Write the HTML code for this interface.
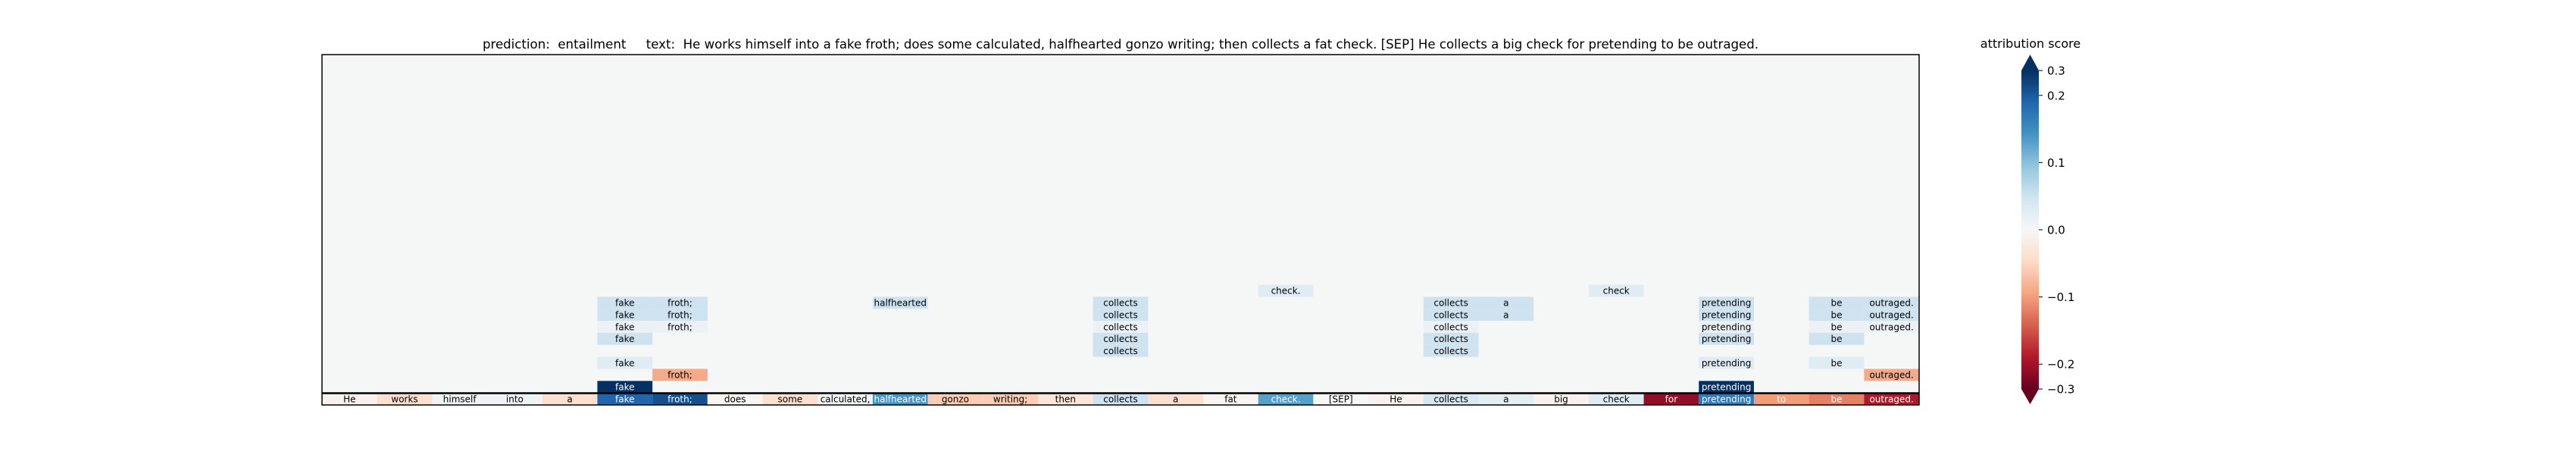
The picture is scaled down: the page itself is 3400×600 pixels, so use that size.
<!DOCTYPE html>
<html><head><meta charset="utf-8"><style>
html,body{margin:0;padding:0;background:#fff;}
svg{display:block;font-family:"DejaVu Sans","Liberation Sans",sans-serif;}
</style></head><body>
<svg id="chart" width="3400" height="600" viewBox="0 0 3400 600" xmlns="http://www.w3.org/2000/svg">
<defs>
<linearGradient id="rdbu" x1="0" y1="1" x2="0" y2="0">
<stop offset="0" stop-color="#67001f"/><stop offset="0.1" stop-color="#b2182b"/><stop offset="0.2" stop-color="#d6604d"/><stop offset="0.3" stop-color="#f4a582"/><stop offset="0.4" stop-color="#fddbc7"/><stop offset="0.5" stop-color="#f7f7f7"/><stop offset="0.6" stop-color="#d1e5f0"/><stop offset="0.7" stop-color="#92c5de"/><stop offset="0.8" stop-color="#4393c3"/><stop offset="0.9" stop-color="#2166ac"/><stop offset="1" stop-color="#053061"/>
</linearGradient>
</defs>
<text x="1479" y="64" text-anchor="middle" font-size="16.6" fill="#000" xml:space="preserve">prediction:  entailment     text:  He works himself into a fake froth; does some calculated, halfhearted gonzo writing; then collects a fat check. [SEP] He collects a big check for pretending to be outraged.</text>
<rect x="425" y="72" width="2108" height="462" fill="#f5f6f6"/>
<g id="cells"></g>
<line x1="425" y1="518.5" x2="2533" y2="518.5" stroke="#000" stroke-width="2.5"/>
<rect x="425" y="72" width="2108" height="462" fill="none" stroke="#000" stroke-width="1.5"/>
<text x="2680" y="63" text-anchor="middle" font-size="16" fill="#000">attribution score</text>
<g id="cbar">
<rect x="2668" y="93" width="23" height="420" fill="url(#rdbu)"/>
<polygon points="2668,93 2679.5,72 2691,93" fill="#053061"/>
<polygon points="2668,513 2679.5,533 2691,513" fill="#67001f"/>
</g>
</svg>
<script>
const tokens = ["He","works","himself","into","a","fake","froth;","does","some","calculated,","halfhearted","gonzo","writing;","then","collects","a","fat","check.","[SEP]","He","collects","a","big","check","for","pretending","to","be","outraged."];
const baseValues = [-0.01,-0.04,0.01,0.01,-0.04,0.19,0.21,-0.005,-0.04,0.005,0.14,-0.06,-0.06,-0.03,0.05,-0.04,-0.005,0.13,0.0,-0.01,0.04,0.025,-0.01,0.03,-0.21,0.17,-0.1,-0.12,-0.19];
// upper cells: [column, row, value]
const upperCells = [
 [5,8,0.05],[5,7,0.05],[5,6,0.015],[5,5,0.05],[5,3,0.03],[5,1,0.3],
 [6,8,0.05],[6,7,0.05],[6,6,0.015],[6,2,-0.09],
 [10,8,0.05],
 [14,8,0.05],[14,7,0.05],[14,6,0.015],[14,5,0.05],[14,4,0.05],
 [17,9,0.03],
 [20,8,0.05],[20,7,0.05],[20,6,0.015],[20,5,0.05],[20,4,0.05],
 [21,8,0.05],[21,7,0.05],
 [23,9,0.03],
 [25,8,0.05],[25,7,0.05],[25,6,0.015],[25,5,0.05],[25,3,0.03],[25,1,0.3],
 [27,8,0.05],[27,7,0.05],[27,6,0.015],[27,5,0.05],[27,3,0.03],
 [28,8,0.05],[28,7,0.05],[28,6,0.015],[28,2,-0.09]
];
const tickValues = [0.3,0.2,0.1,0.0,-0.1,-0.2,-0.3];
const tickLabels = ["0.3","0.2","0.1","0.0","\u22120.1","\u22120.2","\u22120.3"];
const vLimit = 0.237;

const stops = ["#67001f","#b2182b","#d6604d","#f4a582","#fddbc7","#f7f7f7","#d1e5f0","#92c5de","#4393c3","#2166ac","#053061"];
function hex(c){return [parseInt(c.substr(1,2),16),parseInt(c.substr(3,2),16),parseInt(c.substr(5,2),16)];}
function norm(v){return Math.max(0,Math.min(1,0.5+0.5*v/vLimit));}
function color(v){
  const t=norm(v)*10, i=Math.min(9,Math.floor(t)), f=t-i;
  const a=hex(stops[i]), b=hex(stops[i+1]);
  return "rgb("+a.map((x,k)=>Math.round(x+(b[k]-x)*f)).join(",")+")";
}
const X0=425, X1=2533, Y1=534, rowH=15.85;
const colW=(X1-X0)/tokens.length;
function xPos(c){return X0+c*colW;}
function yPos(r){return Y1-(r+1)*rowH;}
const NS="http://www.w3.org/2000/svg";
const g=document.getElementById('cells');
function cell(c,r,v,name){
  const rect=document.createElementNS(NS,'rect');
  rect.setAttribute('x',xPos(c));rect.setAttribute('y',yPos(r));
  rect.setAttribute('width',colW);rect.setAttribute('height',rowH);
  rect.setAttribute('fill',color(v));
  
  
  g.appendChild(rect);
  const t=document.createElementNS(NS,'text');
  t.setAttribute('x',xPos(c)+colW/2);t.setAttribute('y',yPos(r)+rowH/2+4.3);
  t.setAttribute('text-anchor','middle');t.setAttribute('font-size','12');
  t.setAttribute('fill',Math.abs(v)>=0.095?'#fff':'#000');
  t.textContent=tokens[c];
  
  
  g.appendChild(t);
}
baseValues.forEach((v,c)=>cell(c,0,v,'token-'+c));
upperCells.forEach(u=>cell(u[0],u[1],u[2],'row'+u[1]+'-token-'+u[0]));
const cb=document.getElementById('cbar');
const cbTop=93, cbBot=513;
tickValues.forEach((v,i)=>{
  const y=cbBot-norm(v)*(cbBot-cbTop);
  const l=document.createElementNS(NS,'line');
  l.setAttribute('x1',2691);l.setAttribute('x2',2696);l.setAttribute('y1',y);l.setAttribute('y2',y);
  l.setAttribute('stroke','#000');l.setAttribute('stroke-width','1');
  
  
  cb.appendChild(l);
  const t=document.createElementNS(NS,'text');
  t.setAttribute('x',2702);t.setAttribute('y',y+5.5);t.setAttribute('font-size','15');
  t.textContent=tickLabels[i];
  
  
  cb.appendChild(t);
});
</script>
</body></html>
